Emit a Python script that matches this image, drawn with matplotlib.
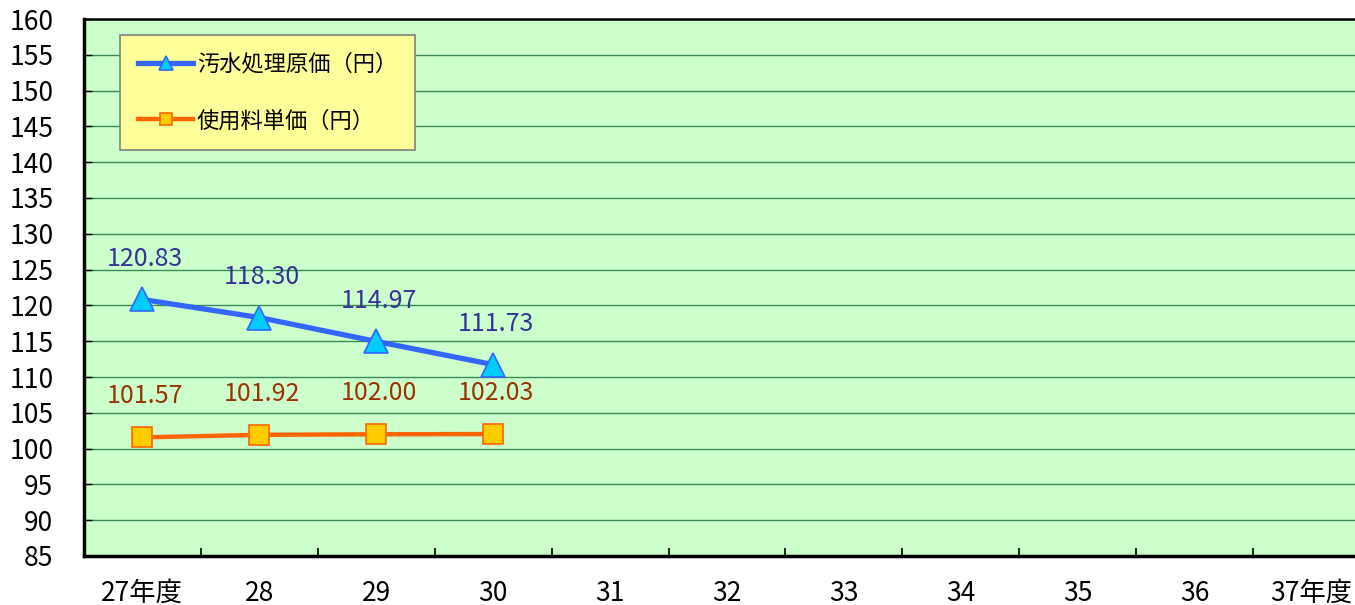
import matplotlib
matplotlib.use("Agg")
import matplotlib.pyplot as plt
from matplotlib.ticker import FixedLocator, NullFormatter

plt.rcParams['font.family'] = ['Noto Sans CJK JP', 'DejaVu Sans']

# data
years = ["27年度", "28", "29", "30", "31", "32", "33", "34", "35", "36", "37年度"]
cost = [120.83, 118.30, 114.97, 111.73]      # 汚水処理原価（円）
price = [101.57, 101.92, 102.00, 102.03]     # 使用料単価（円）
cost_label = "汚水処理原価（円）"
price_label = "使用料単価（円）"

fig = plt.figure(figsize=(13.55, 6.05), dpi=100)
ax = fig.add_axes([84 / 1355, 49 / 605, 1286 / 1355, 537 / 605])
ax.set_facecolor("#CCFFCC")

x = list(range(len(years)))
ax.plot(x[:len(cost)], cost, color="#3366FF", lw=3.8, marker="^", ms=17,
        mfc="#00CCFF", mec="#3366FF", mew=1.2, label=cost_label, zorder=3)
ax.plot(x[:len(price)], price, color="#FF6600", lw=3.2, marker="s", ms=15,
        mfc="#FFCC00", mec="#FF6600", mew=1.2, label=price_label, zorder=3)

for xi, v in zip(x, cost):
    ax.annotate(f"{v:.2f}", (xi, v), xytext=(2, 29), textcoords="offset points",
                ha="center", va="center", fontsize=18, color="#333399")
for xi, v in zip(x, price):
    ax.annotate(f"{v:.2f}", (xi, v), xytext=(2, 29.5), textcoords="offset points",
                ha="center", va="center", fontsize=18, color="#993300")

ax.set_xlim(-0.5, len(years) - 0.5)
ax.set_ylim(85, 160)
ax.set_yticks(range(85, 161, 5))
ax.set_xticks(x)
ax.set_xticklabels(years)
ax.xaxis.set_minor_locator(FixedLocator([i + 0.5 for i in range(len(years) - 1)]))
ax.xaxis.set_minor_formatter(NullFormatter())
ax.tick_params(axis="x", which="major", length=0, pad=17, labelsize=19)
ax.tick_params(axis="x", which="minor", direction="in", length=6, width=1.2)
ax.tick_params(axis="y", direction="in", length=6, width=1, pad=22, labelsize=19)

ax.grid(axis="y", color="#3A8A5A", lw=1)
ax.set_axisbelow(True)

ax.spines["left"].set_linewidth(2.5)
ax.spines["bottom"].set_linewidth(2.5)
ax.spines["top"].set_linewidth(1.8)
ax.spines["right"].set_visible(False)

leg = ax.legend(loc="upper left", bbox_to_anchor=(0.028, 0.970), borderaxespad=0,
                fontsize=16, handlelength=2.5, handletextpad=0.15, labelspacing=1.5,
                borderpad=0.8, fancybox=False, frameon=True, markerscale=0.6)
leg.get_frame().set_facecolor("#FFFF99")
leg.get_frame().set_edgecolor("#808080")
leg.get_frame().set_alpha(1)
leg.get_frame().set_linewidth(1.2)

fig.savefig("out.png", dpi=100)
